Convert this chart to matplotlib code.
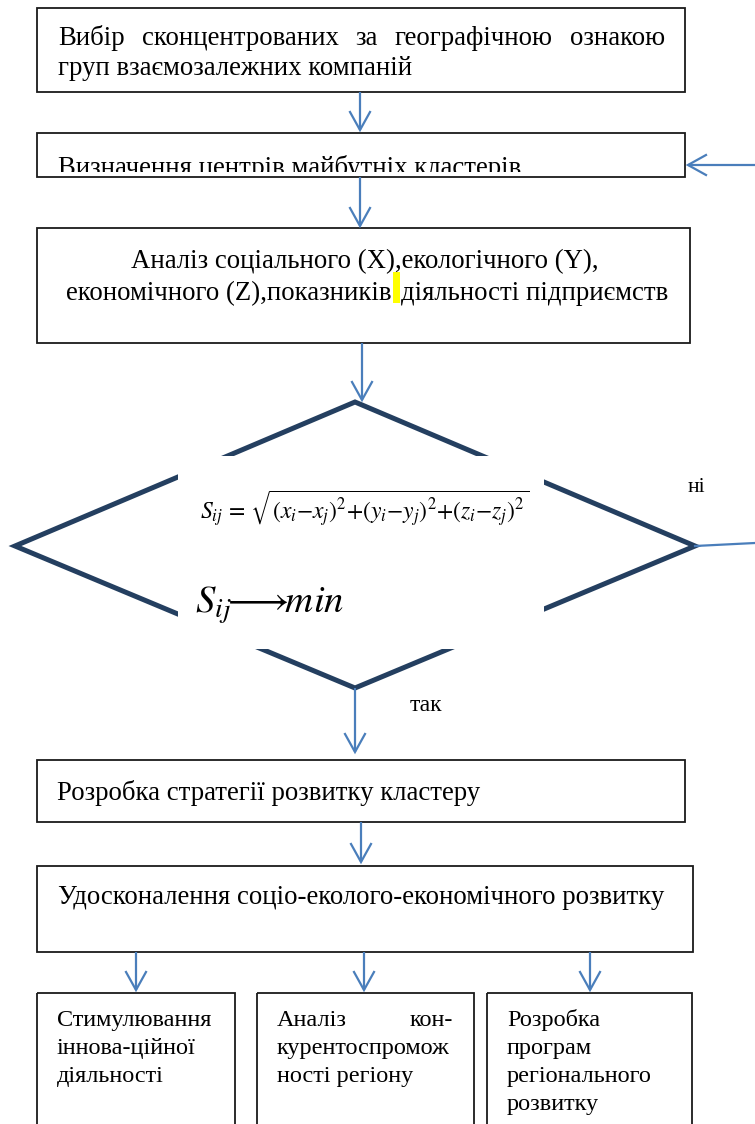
import math
import matplotlib
matplotlib.use('Agg')
import matplotlib.pyplot as plt
from matplotlib.patches import Rectangle, Polygon
from matplotlib.transforms import Bbox

plt.rcParams['font.family'] = ['Liberation Serif', 'DejaVu Serif']
plt.rcParams['mathtext.fontset'] = 'stix'

# ---- content ----
box1_lines = ["Вибір сконцентрованих за географічною ознакою",
              "груп взаємозалежних компаній"]
box2_text = "Визначення центрів майбутніх кластерів"
box3_line1 = "Аналіз соціального (X),екологічного (Y),"
box3_line2_left = "економічного (Z),показників"
box3_line2_right = "діяльності підприємств"
formula_text = (r'$S_{ij}\,{=}\,\sqrt{\left(x_i{-}x_j\right)^2{+}'
                r'\left(y_i{-}y_j\right)^2{+}\left(z_i{-}z_j\right)^2}$')
goal_text = r'$S_{ij}\!\!\longrightarrow\!\!min$'
label_no = "ні"
label_yes = "так"
box4_text = "Розробка стратегії розвитку кластеру"
box5_text = "Удосконалення соціо-еколого-економічного розвитку"
sub_box_lines = [
    ["Стимулювання", "іннова-ційної", "діяльності"],
    ["Аналіз кон-", "курентоспромож", "ності регіону"],
    ["Розробка", "програм", "регіонального", "розвитку"],
]

W, H = 755, 1124
FS = 19.3
FS_SUB = 17.5
BOX_EC = '#1a1a1a'
ARROW_C = '#4A7EBB'
DIAMOND_C = '#243F60'

fig = plt.figure(figsize=(W / 100, H / 100), dpi=100)
ax = fig.add_axes([0, 0, 1, 1])
ax.set_xlim(0, W)
ax.set_ylim(H, 0)
ax.axis('off')
renderer = fig.canvas.get_renderer()


def box(x0, y0, x1, y1):
    ax.add_patch(Rectangle((x0, y0), x1 - x0, y1 - y0, fill=False,
                           ec=BOX_EC, lw=1.3, zorder=2))


def arrow(x0, y0, x1, y1, hl=18, hw=10):
    ax.plot([x0, x1], [y0, y1], color=ARROW_C, lw=1.6, zorder=3,
            solid_capstyle='butt')
    dx, dy = x1 - x0, y1 - y0
    L = math.hypot(dx, dy)
    ux, uy = dx / L, dy / L
    px, py = -uy, ux
    bx, by = x1 - ux * hl, y1 - uy * hl
    ax.plot([bx + px * hw, x1, bx - px * hw], [by + py * hw, y1, by - py * hw],
            color=ARROW_C, lw=1.6, zorder=3, solid_joinstyle='miter')


def text(x, y, s, ha='left', size=FS, **kw):
    return ax.text(x, y, s, ha=ha, va='baseline', fontsize=size,
                   color='black', zorder=5, **kw)


def text_width(s, size=FS):
    t = ax.text(0, 0, s, fontsize=size)
    bb = t.get_window_extent(renderer=renderer)
    t.remove()
    return bb.width  # pixels == data units here


def justify(words, x0, x1, y, size=FS):
    widths = [text_width(w, size) for w in words]
    gap = (x1 - x0 - sum(widths)) / (len(words) - 1)
    x = x0
    for w, wd in zip(words, widths):
        text(x, y, w, size=size)
        x += wd + gap


# ---- box 1 ----
box(37, 8, 685, 92)
justify(box1_lines[0].split(), 58, 665, 45)
text(58, 75, box1_lines[1])
arrow(360, 92, 360, 130)

# ---- box 2 (text clipped by bottom edge) ----
box(37, 133, 685, 177)
t2 = text(58, 175, box2_text)
p = ax.transData.transform([[0, 130], [W, 171.5]])
t2.set_clip_box(Bbox.from_extents(p[:, 0].min(), p[:, 1].min(),
                                  p[:, 0].max(), p[:, 1].max()))
t2.set_clip_on(True)
arrow(W, 165, 688, 165)
arrow(360, 177, 360, 226)

# ---- box 3 ----
box(37, 228, 690, 343)
text(365, 268, box3_line1, ha='center')
ax.add_patch(Rectangle((393, 272), 7, 31, color='#FFFF00', lw=0, zorder=4))
text(392, 300, box3_line2_left, ha='right')
text(401, 300, box3_line2_right, ha='left')
arrow(362, 343, 362, 400)

# ---- decision diamond ----
top, left, right, bottom = (355, 402), (15, 546), (695, 546), (355, 688)
ax.add_patch(Polygon([top, right, bottom, left], closed=True, fill=False,
                     ec=DIAMOND_C, lw=3.6, zorder=2, joinstyle='miter'))
ax.add_patch(Rectangle((178, 456), 366, 193, color='white', lw=0, zorder=3))
text(200, 520, formula_text, size=17)
text(195, 613, goal_text, size=28)
text(688, 492, label_no, size=15.5)
text(410, 711, label_yes, size=17)
ax.plot([695, W], [546, 543], color=ARROW_C, lw=1.6, zorder=3)
arrow(355, 688, 355, 752)

# ---- box 4 ----
box(37, 760, 685, 822)
text(57, 800, box4_text)
arrow(361, 822, 361, 862)

# ---- box 5 ----
box(37, 866, 693, 952)
text(58, 904, box5_text)

# ---- three sub boxes ----
sub_x = [(37, 235), (257, 474), (487, 692)]
arrow_x = [136, 364, 590]
for (x0, x1), a_x, lines in zip(sub_x, arrow_x, sub_box_lines):
    arrow(a_x, 952, a_x, 990)
    box(x0, 993, x1, 1140)
    for k, ln in enumerate(lines):
        y = 1026 + 28 * k
        if x0 == 257 and k == 0:
            justify(ln.split(), x0 + 20, x1 - 21, y, size=FS_SUB)
        else:
            text(x0 + 20, y, ln, size=FS_SUB)

fig.savefig('out.png', dpi=100)
